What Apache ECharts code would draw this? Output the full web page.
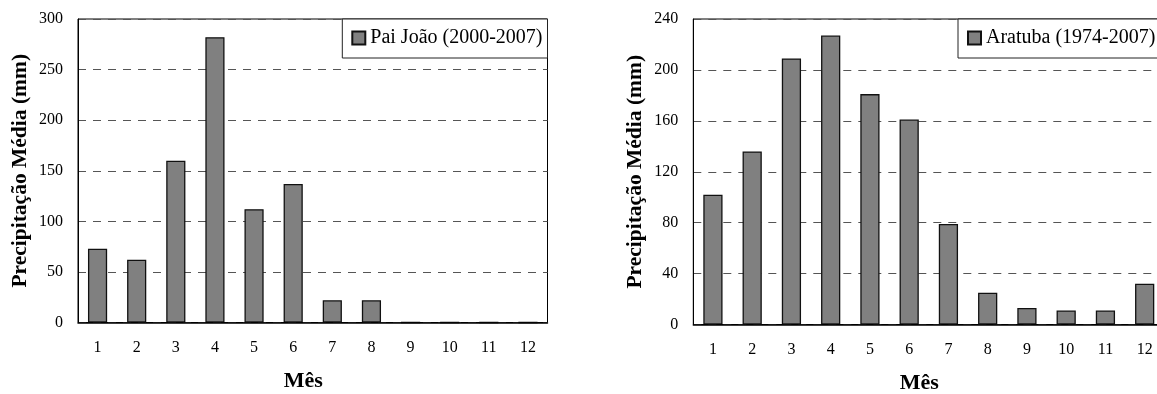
<!DOCTYPE html>
<html>
<head>
<meta charset="utf-8">
<script src="https://cdn.jsdelivr.net/npm/echarts@6/dist/echarts.min.js"></script>
<style>
  html, body { margin: 0; padding: 0; background: #fff; }
  #chart { width: 1157px; height: 394px; }
</style>
</head>
<body>
<div id="chart"></div>
<script>
// Monthly mean rainfall (mm) at two stations
const months = ['1', '2', '3', '4', '5', '6', '7', '8', '9', '10', '11', '12'];
const paiJoaoName = 'Pai João (2000-2007)';
const paiJoao = [73, 62, 160, 282, 112, 137, 22, 22, 0, 0, 0, 0];
const aratubaName = 'Aratuba (1974-2007)';
const aratuba = [102, 136, 209, 227, 181, 161, 79, 25, 13, 11, 11, 32];
const yTitle = 'Precipitação Média (mm)';
const xTitle = 'Mês';

const FONT = 'Liberation Serif';
const TEXT = '#000';

function xAxisFor(gridIndex) {
  return {
    type: 'category', gridIndex, data: months, z: 3,
    axisLine: { lineStyle: { color: '#000', width: 1.5 } },
    axisTick: { show: false },
    axisLabel: { color: TEXT, fontFamily: FONT, fontSize: 16, margin: 17 },
    name: xTitle, nameLocation: 'middle', nameGap: 48,
    nameTextStyle: { color: TEXT, fontFamily: FONT, fontSize: 22, fontWeight: 'bold', padding: [0, 19, 0, 0] }
  };
}
function yAxisFor(gridIndex, max, interval) {
  return {
    type: 'value', gridIndex, min: 0, max, interval,
    axisLine: { show: true, lineStyle: { color: '#000', width: 1 } },
    axisTick: { show: false },
    splitLine: { show: true, lineStyle: { color: '#555', width: 1, type: [8, 7] } },
    axisLabel: { color: TEXT, fontFamily: FONT, fontSize: 16, margin: 15 },
    name: yTitle, nameLocation: 'middle', nameRotate: 90, nameGap: 47,
    nameTextStyle: { color: TEXT, fontFamily: FONT, fontSize: 21.5, fontWeight: 'bold' }
  };
}
function legendFor(name, pos) {
  return Object.assign({
    top: 19, data: [name], orient: 'horizontal',
    icon: 'rect', itemWidth: 13, itemHeight: 13,
    backgroundColor: '#fff', borderColor: '#222', borderWidth: 1,
    padding: [9, 5, 10, 9], borderRadius: 0,
    selectedMode: false,
    textStyle: { color: TEXT, fontFamily: FONT, fontSize: 20 }
  }, pos);
}
const barStyle = { color: '#808080', borderColor: '#111', borderWidth: 1.3 };

const chart = echarts.init(document.getElementById('chart'), null, { renderer: 'canvas' });
chart.setOption({
  animation: false,
  backgroundColor: '#fff',
  grid: [
    { left: 78, top: 19, width: 469.5, height: 303.5, show: true, borderColor: '#000', borderWidth: 1, outerBoundsMode: 'none' },
    { left: 693.3, top: 19, width: 471, height: 305.5, show: true, borderColor: '#000', borderWidth: 1, outerBoundsMode: 'none' }
  ],
  xAxis: [xAxisFor(0), xAxisFor(1)],
  yAxis: [yAxisFor(0, 300, 50), yAxisFor(1, 240, 40)],
  legend: [
    legendFor(paiJoaoName, { right: 1157 - 547.5 }),
    legendFor(aratubaName, { left: 958 })
  ],
  series: [
    { name: paiJoaoName, type: 'bar', xAxisIndex: 0, yAxisIndex: 0, data: paiJoao, barWidth: '49%', itemStyle: barStyle },
    { name: aratubaName, type: 'bar', xAxisIndex: 1, yAxisIndex: 1, data: aratuba, barWidth: '49%', itemStyle: barStyle }
  ]
});
</script>
</body>
</html>
